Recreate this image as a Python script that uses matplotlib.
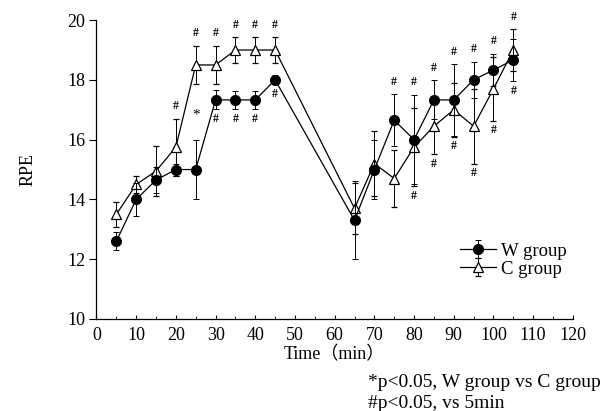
import matplotlib
matplotlib.use("Agg")
import matplotlib.pyplot as plt
from matplotlib.ticker import MultipleLocator

# RPE over time for the two groups (mean and SD)
time = [5, 10, 15, 20, 25, 30, 35, 40, 45, 65, 70, 75, 80, 85, 90, 95, 100, 105]
w_mean = [12.6, 14.0, 14.65, 15.0, 15.0, 17.33, 17.33, 17.33, 18.0,
          13.3, 15.0, 16.65, 16.0, 17.33, 17.33, 18.0, 18.33, 18.67]
w_sd = [0.3, 0.55, 0.45, 0.2, 1.0, 0.32, 0.3, 0.3, 0.15,
        1.3, 1.0, 0.87, 1.5, 0.65, 1.2, 0.6, 0.55, 0.7]
c_mean = [13.5, 14.5, 14.95, 15.75, 18.5, 18.5, 19.0, 19.0, 19.0,
          13.7, 15.2, 14.7, 15.75, 16.45, 17.0, 16.45, 17.7, 19.0]
c_sd = [0.42, 0.3, 0.85, 0.95, 0.65, 0.65, 0.43, 0.43, 0.43,
        0.85, 1.1, 0.97, 1.3, 0.93, 0.9, 1.25, 1.06, 0.7]

# significance markers (# vs 5 min above/below the bars, * between groups)
hash_above = [20, 25, 30, 35, 40, 45, 75, 80, 85, 90, 95, 100, 105]
hash_below = [30, 35, 40, 45, 80, 85, 90, 95, 100, 105]
star_times = [25]

xticks = [0, 10, 20, 30, 40, 50, 60, 70, 80, 90, 100, 110, 120]
yticks = [10, 12, 14, 16, 18, 20]

SERIF = ["Liberation Serif", "Noto Sans CJK SC", "DejaVu Serif"]
plt.rcParams["font.family"] = SERIF

fig = plt.figure(figsize=(6.03, 4.11), dpi=100)
ax = fig.add_axes([0.160, 0.224, 0.790, 0.727])

c_line = ax.errorbar(time, c_mean, yerr=c_sd, color="black", lw=0.9,
                     marker="^", ms=7.5, mfc="white", mec="black", mew=0.9,
                     ecolor="black", elinewidth=0.7, capsize=2.5, capthick=0.7,
                     zorder=2, label="C group")
w_line = ax.errorbar(time, w_mean, yerr=w_sd, color="black", lw=0.9,
                     marker="o", ms=7, mfc="black", mec="black",
                     ecolor="black", elinewidth=0.7, capsize=2.5, capthick=0.7,
                     zorder=3, label="W group")

idx = {t: i for i, t in enumerate(time)}
for t in hash_above:
    i = idx[t]
    top = max(w_mean[i] + w_sd[i], c_mean[i] + c_sd[i])
    ax.annotate("#", (t, top), xytext=(0, 9), textcoords="offset points",
                ha="center", va="center", fontsize=8.5, fontweight="bold")
for t in hash_below:
    i = idx[t]
    bot = min(w_mean[i] - w_sd[i], c_mean[i] - c_sd[i])
    ax.annotate("#", (t, bot), xytext=(0, -7), textcoords="offset points",
                ha="center", va="center", fontsize=8.5, fontweight="bold")
for t in star_times:
    i = idx[t]
    mid = 0.5 * (w_mean[i] + w_sd[i] + c_mean[i] - c_sd[i])
    ax.annotate("*", (t, mid), xytext=(0, -2), textcoords="offset points",
                ha="center", va="center", fontsize=11)

ax.set_xlim(0, 120)
ax.set_ylim(10, 20)
ax.set_xticks(xticks)
ax.set_yticks(yticks)
ax.xaxis.set_minor_locator(MultipleLocator(5))
ax.tick_params(axis="x", which="major", direction="in", length=3, width=0.8,
               labelsize=13, pad=6)
ax.tick_params(axis="x", which="minor", direction="in", length=2, width=0.6)
ax.tick_params(axis="y", direction="out", length=5, width=0.8,
               labelsize=13, pad=3)
for s in ("top", "right"):
    ax.spines[s].set_visible(False)
for s in ("left", "bottom"):
    ax.spines[s].set_linewidth(0.9)

ax.set_ylabel("RPE", fontsize=13, labelpad=22)
ax.set_xlabel("Time（min）", fontsize=13, labelpad=1)

ax.legend(handles=[w_line, c_line], labels=["W group", "C group"],
          loc="center left", bbox_to_anchor=(0.763, 0.197), frameon=False,
          fontsize=13.5, handlelength=1.9, handletextpad=0.3,
          labelspacing=0.05, borderpad=0, borderaxespad=0)

fig.text(368 / 603, 1 - 382 / 411, "*p<0.05, W group vs C group",
         fontsize=14, ha="left", va="center")
fig.text(368 / 603, 1 - 403 / 411, "#p<0.05, vs 5min",
         fontsize=14, ha="left", va="center")

fig.savefig("out.png", dpi=100)
